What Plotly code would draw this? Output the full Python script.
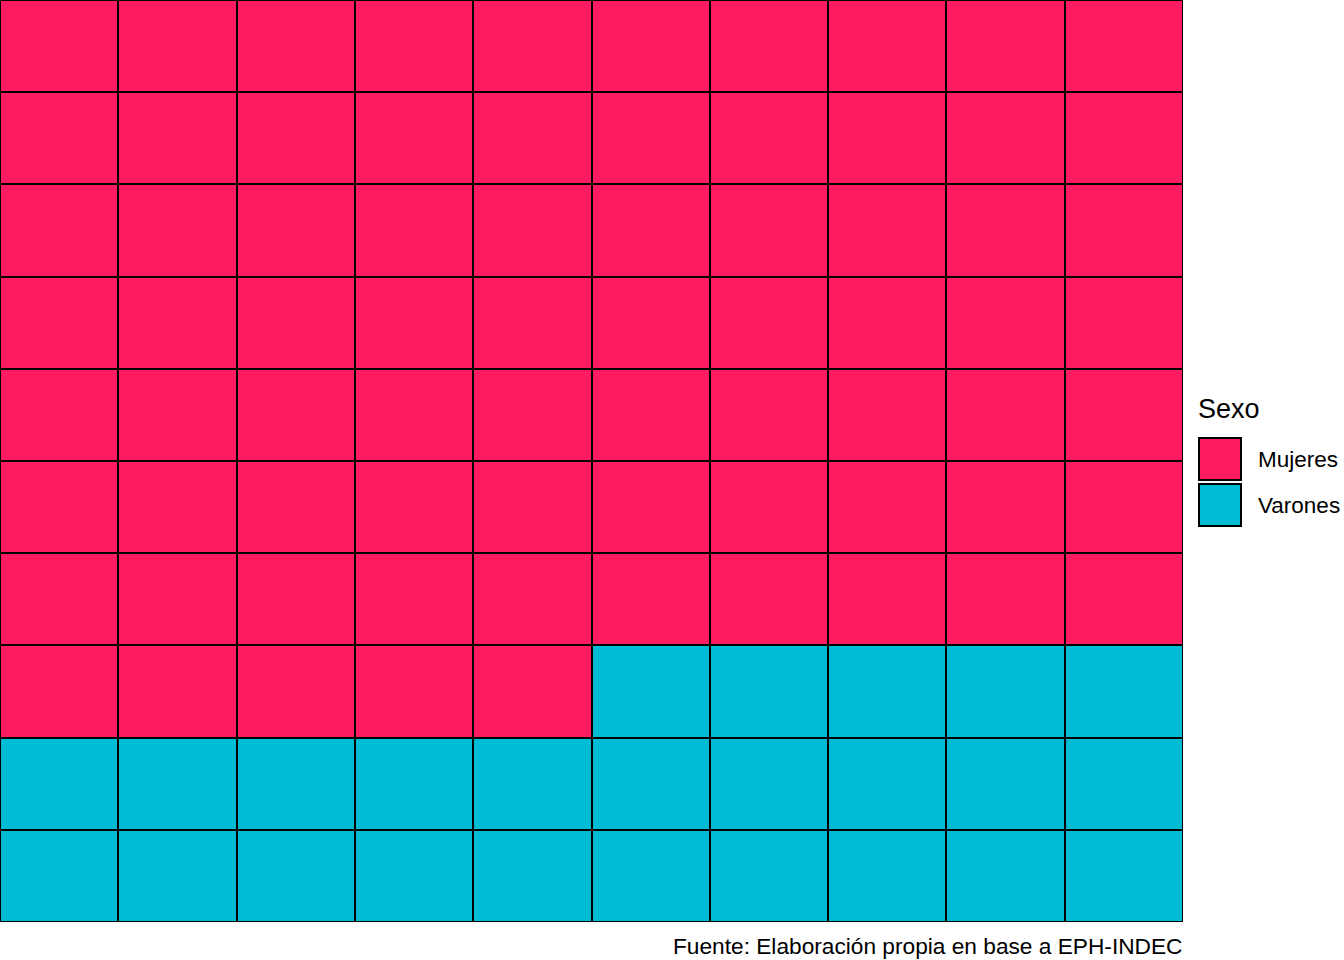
import plotly.graph_objects as go

categories = ["Mujeres", "Varones"]
counts = [75, 25]
colors = ["#FF1B60", "#00BDD5"]
n_cols = 10
n_rows = 10
legend_title = "Sexo"
caption = "Fuente: Elaboración propia en base a EPH-INDEC"

# fill order: top-to-bottom, left-to-right
cells = []
for i, c in enumerate(counts):
    cells += [i] * c
z = [cells[r * n_cols:(r + 1) * n_cols] for r in range(n_rows)]

W, H = 1344, 960
L, R, T, B = 0, 161, 0, 38
pw, ph = W - L - R, H - T - B

fig = go.Figure(go.Heatmap(
    z=z,
    x=list(range(1, n_cols + 1)),
    y=list(range(1, n_rows + 1)),
    zmin=0, zmax=1,
    colorscale=[[0, colors[0]], [0.5, colors[0]], [0.5, colors[1]], [1, colors[1]]],
    showscale=False, xgap=2, ygap=2, hoverinfo="skip",
))

def px(x):
    return (x - L) / pw

def py(y):
    return 1 - (y - T) / ph

shapes = []
annotations = []
key_x0, key_x1 = 1199, 1241
key_tops = [438, 484]
key_h = 42
for i, cat in enumerate(categories):
    y0 = key_tops[i]
    shapes.append(dict(type="rect", xref="paper", yref="paper",
                       x0=px(key_x0), x1=px(key_x1), y0=py(y0 + key_h), y1=py(y0),
                       fillcolor=colors[i], line=dict(color="black", width=2)))
    annotations.append(dict(xref="paper", yref="paper", x=px(1256), y=py(y0 + key_h / 2),
                            text=cat, showarrow=False, xanchor="left", yanchor="middle",
                            font=dict(size=22.5, color="black")))
annotations.append(dict(xref="paper", yref="paper", x=px(1196), y=py(409),
                        text=legend_title, showarrow=False, xanchor="left", yanchor="middle",
                        font=dict(size=27, color="black")))
annotations.append(dict(xref="paper", yref="paper", x=px(1184), y=py(946),
                        text=caption, showarrow=False, xanchor="right", yanchor="middle",
                        font=dict(size=22.7, color="black")))

fig.update_layout(
    width=W, height=H,
    margin=dict(l=L, r=R, t=T, b=B),
    paper_bgcolor="white", plot_bgcolor="black",
    font=dict(family="Liberation Sans, Arial, sans-serif"),
    xaxis=dict(range=[0.5, n_cols + 0.5], visible=False, fixedrange=True),
    yaxis=dict(range=[n_rows + 0.5, 0.5], visible=False, fixedrange=True),
    shapes=shapes, annotations=annotations, showlegend=False,
)

fig.write_html("out.html", config={"displayModeBar": False})
